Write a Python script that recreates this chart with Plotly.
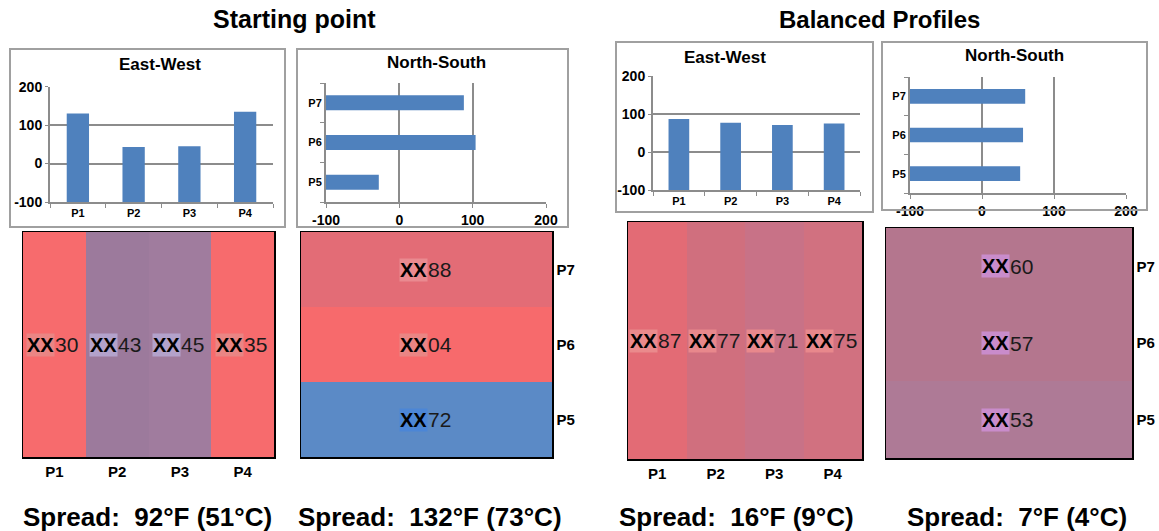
import plotly.graph_objects as go
import numpy as np

W, H = 1159, 531
OFF = 0  # figure div placed at the page origin (body margin removed below)

# ---------------- data ----------------
ew_cats = ["P1", "P2", "P3", "P4"]
ns_cats = ["P5", "P6", "P7"]

ew_start = [130, 43, 45, 135]
ns_start = [-28, 104, 88]      # P5, P6, P7
ew_bal = [87, 77, 71, 75]
ns_bal = [53, 57, 60]          # P5, P6, P7

ew_start_lbl = ["30", "43", "45", "35"]
ns_start_lbl = ["72", "04", "88"]
ew_bal_lbl = ["87", "77", "71", "75"]
ns_bal_lbl = ["53", "57", "60"]

spread_f = [92, 132, 16, 7]
spread_c = [51, 73, 9, 4]

group_titles = ["Starting point", "Balanced Profiles"]
bar_titles = ["East-West", "North-South", "East-West", "North-South"]
value_ticks = [-100, 0, 100, 200]
value_tick_text = [str(v) for v in value_ticks]
BASE = -100

# ---------------- styles ----------------
BLUE = "#4F81BD"
GRID = "#8C8C8C"
BOXC = "#A0A0A0"
FONT = "Arial"

ew_start_colors = ["#F76B6D", "#9C7A9C", "#A07C9E", "#F76B6D"]
ns_start_colors = ["#5B8AC6", "#F76A6C", "#E36C76"]
ew_bal_colors = ["#E36B75", "#D06F7E", "#C87287", "#D17180"]
ns_bal_colors = ["#AE7A96", "#B4768E", "#B4768E"]

ew_start_hl = ["#EA8584", "#B3A2CB", "#B3A2CB", "#EA8584"]
ns_start_hl = ["#4C86D6", "#EA8584", "#EA8A90"]
ew_bal_hl = ["#EA8A8C", "#E8888C", "#E8888C", "#E8888C"]
ns_bal_hl = ["#C98CCB", "#C98CCB", "#C98CCB"]


def fx(p):
    return (p - OFF) / W


def fy(p):
    return 1 - (p - OFF) / H


def dx(a, b):
    return [fx(a), fx(b)]


def dy(top, bottom):
    return [fy(bottom), fy(top)]


fig = go.Figure()
layout = dict(
    width=W, height=H, margin=dict(l=0, r=0, t=0, b=0, pad=0, autoexpand=False),
    paper_bgcolor="white", plot_bgcolor="white", showlegend=False,
    font=dict(family=FONT, color="black"),
)
annotations = []
shapes = []

bold = lambda s: dict(family=FONT, size=s, color="black", weight="bold")

# ---------------- bar panels ----------------
bar_panels = [
    (1, "ew", ew_start, (50, 273), (86.7, 202), (10, 49, 285, 227), (160, 64)),
    (2, "ns", ns_start, (326, 546), (83, 202), (297, 49, 568, 227), (436, 62)),
    (3, "ew", ew_bal, (653, 860), (76, 190), (616, 42, 873, 212), (725, 57)),
    (4, "ns", ns_bal, (910, 1126), (77, 193), (882, 42, 1147, 210), (1014, 56)),
]

for (i, kind, vals, xd, yd, box, tpos), title in zip(bar_panels, bar_titles):
    xa = "x" if i == 1 else f"x{i}"
    ya = "y" if i == 1 else f"y{i}"
    xk = "xaxis" if i == 1 else f"xaxis{i}"
    yk = "yaxis" if i == 1 else f"yaxis{i}"
    lengths = np.array(vals) - BASE
    if kind == "ew":
        fig.add_trace(go.Bar(x=ew_cats, y=lengths, base=BASE, width=0.4,
                             marker=dict(color=BLUE, line=dict(width=0)),
                             xaxis=xa, yaxis=ya))
        layout[xk] = dict(domain=dx(*xd), anchor=ya, type="category", automargin=False,
                          range=[-0.5, 3.5], showline=True, linecolor=GRID, linewidth=2,
                          ticks="outside", tickson="boundaries", ticklen=4, tickcolor=GRID,
                          showgrid=False, tickfont=bold(11), fixedrange=True)
        layout[yk] = dict(domain=dy(*yd), anchor=xa, range=[-100, 200], automargin=False,
                          tickvals=value_ticks, ticktext=value_tick_text,
                          showgrid=True, gridcolor=GRID, gridwidth=2,
                          zeroline=False, showline=True, linecolor=GRID, linewidth=2,
                          ticks="outside", ticklen=3, tickcolor=GRID,
                          tickfont=bold(14), fixedrange=True)
    else:
        fig.add_trace(go.Bar(y=ns_cats, x=lengths, base=BASE, width=0.38, orientation="h",
                             marker=dict(color=BLUE, line=dict(width=0)),
                             xaxis=xa, yaxis=ya))
        layout[xk] = dict(domain=dx(*xd), anchor=ya, range=[-100, 200], automargin=False,
                          tickvals=value_ticks, ticktext=value_tick_text,
                          showgrid=True, gridcolor=GRID, gridwidth=2,
                          zeroline=False, showline=True, linecolor=GRID, linewidth=2,
                          ticks="outside", ticklen=4, tickcolor=GRID,
                          tickfont=bold(14), fixedrange=True)
        layout[yk] = dict(domain=dy(*yd), anchor=xa, type="category", automargin=False,
                          categoryorder="array", categoryarray=ns_cats,
                          range=[-0.5, 2.5], showline=True, linecolor=GRID, linewidth=2,
                          ticks="outside", tickson="boundaries", ticklen=4, tickcolor=GRID,
                          showgrid=False, tickfont=bold(11), fixedrange=True)
    x0, y0, x1, y1 = box
    shapes.append(dict(type="rect", xref="paper", yref="paper",
                       x0=fx(x0), x1=fx(x1), y0=fy(y1), y1=fy(y0),
                       line=dict(color=BOXC, width=2), fillcolor="rgba(0,0,0,0)"))
    annotations.append(dict(text=title, xref="paper", yref="paper",
                            x=fx(tpos[0]), y=fy(tpos[1]), xanchor="center", yanchor="middle",
                            showarrow=False, font=bold(17)))

# ---------------- heat panels ----------------
def colorscale(colors):
    n = len(colors)
    return [[k / (n - 1), c] for k, c in enumerate(colors)]


heat_panels = [
    (5, "ew", ew_start_colors, ew_start_lbl, ew_start_hl, (23, 274), (232, 457)),
    (6, "ns", ns_start_colors, ns_start_lbl, ns_start_hl, (301, 552), (232, 457)),
    (7, "ew", ew_bal_colors, ew_bal_lbl, ew_bal_hl, (628, 862), (222, 459)),
    (8, "ns", ns_bal_colors, ns_bal_lbl, ns_bal_hl, (886, 1132), (228, 458)),
]

for i, kind, cols, lbls, hls, xd, yd in heat_panels:
    xa, ya = f"x{i}", f"y{i}"
    xk, yk = f"xaxis{i}", f"yaxis{i}"
    n = len(cols)
    if kind == "ew":
        fig.add_trace(go.Heatmap(z=[list(range(n))], x=ew_cats, y=["r"],
                                 colorscale=colorscale(cols), zmin=0, zmax=n - 1,
                                 showscale=False, hoverinfo="skip", xaxis=xa, yaxis=ya))
        layout[xk] = dict(domain=dx(*xd), anchor=ya, type="category", range=[-0.5, n - 0.5],
                          showline=True, mirror=True, linecolor="black", linewidth=1.5,
                          ticks="", showgrid=False, zeroline=False, tickfont=bold(15),
                          automargin=False, fixedrange=True)
        layout[yk] = dict(domain=dy(*yd), anchor=xa, type="category", range=[-0.5, 0.5],
                          showline=True, mirror=True, linecolor="black", linewidth=1.5,
                          showticklabels=False, ticks="", showgrid=False, zeroline=False,
                          automargin=False, fixedrange=True)
        positions = [(k, 0) for k in range(n)]
    else:
        fig.add_trace(go.Heatmap(z=[[k] for k in range(n)], x=["c"], y=ns_cats,
                                 colorscale=colorscale(cols), zmin=0, zmax=n - 1,
                                 showscale=False, hoverinfo="skip", xaxis=xa, yaxis=ya))
        layout[xk] = dict(domain=dx(*xd), anchor=ya, type="category", range=[-0.5, 0.5],
                          showline=True, mirror=True, linecolor="black", linewidth=1.5,
                          showticklabels=False, ticks="", showgrid=False, zeroline=False,
                          automargin=False, fixedrange=True)
        layout[yk] = dict(domain=dy(*yd), anchor=xa, type="category", range=[-0.5, n - 0.5],
                          side="right", showline=True, mirror=True, linecolor="black",
                          linewidth=1.5, ticks="", showgrid=False, zeroline=False,
                          tickfont=bold(15), ticklabelstandoff=0, automargin=False,
                          fixedrange=True)
        positions = [(0, k) for k in range(n)]
    for (px, py), lbl, hl in zip(positions, lbls, hls):
        annotations.append(dict(text="XX", xref=xa, yref=ya, x=px, y=py,
                                xanchor="right", yanchor="middle", showarrow=False,
                                bgcolor=hl, borderpad=0, xshift=1,
                                font=dict(family=FONT, size=20, color="black", weight="bold")))
        annotations.append(dict(text=lbl, xref=xa, yref=ya, x=px, y=py,
                                xanchor="left", yanchor="middle", showarrow=False,
                                xshift=-1,
                                font=dict(family=FONT, size=21, color="#1a1a1a")))

# ---------------- titles & spreads ----------------
for t, cx, fs in zip(group_titles, [294.5, 879], [25, 24]):
    annotations.append(dict(text=t, xref="paper", yref="paper", x=fx(cx), y=fy(19),
                            xanchor="center", yanchor="middle", showarrow=False,
                            borderpad=0, font=bold(fs)))

for f_, c_, cx in zip(spread_f, spread_c, [147, 430, 736, 1017]):
    annotations.append(dict(text=f"Spread:  {f_}°F ({c_}°C)", xref="paper", yref="paper",
                            x=fx(cx), y=fy(517), xanchor="center", yanchor="middle",
                            showarrow=False, font=bold(26)))

layout["annotations"] = annotations
layout["shapes"] = shapes
fig.update_layout(**layout)
fig.write_html(
    "out.html",
    config={"displayModeBar": False, "staticPlot": True},
    post_script="document.body.style.margin='0';document.body.style.overflow='hidden';",
)
